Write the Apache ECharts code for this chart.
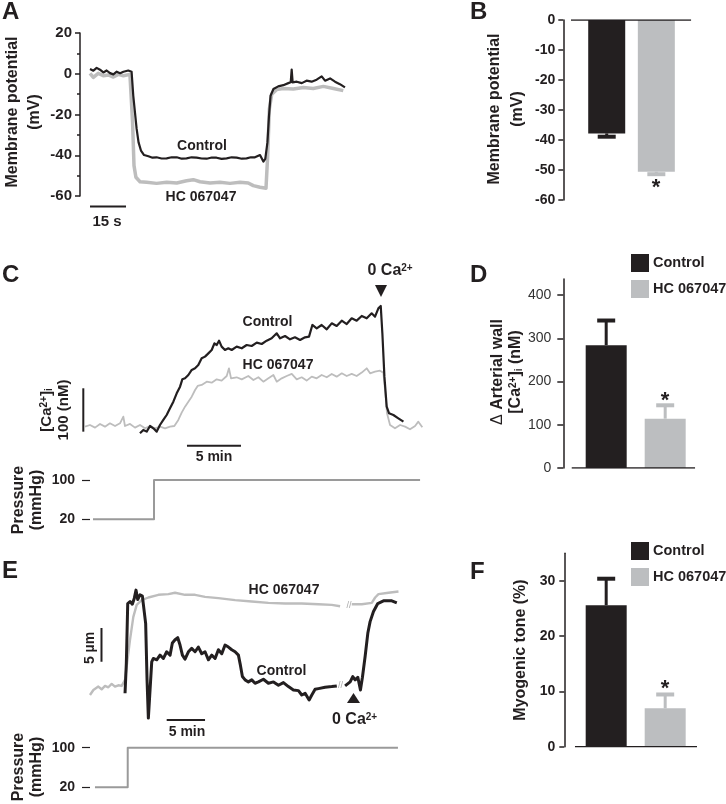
<!DOCTYPE html>
<html><head><meta charset="utf-8">
<script src="https://cdn.jsdelivr.net/npm/echarts@6/dist/echarts.min.js"></script>
<style>html,body{margin:0;padding:0;background:#fff}#c{width:726px;height:804px}</style>
</head><body><div id="c"></div><script>
// ---------- DATA ----------
// Panel A: membrane potential traces [time s, mV]
const aControl = [[4.17,2.3],[5.56,1.5],[6.94,2.9],[8.33,2.0],[9.72,0.65],[11.1,1.6],[12.5,0.3],[13.9,-0.3],[15.3,1.0],[16.7,0.3],[18.1,1.0],[20.1,1.6],[21.5,1.0],[22.2,-10.8],[22.9,-19],[23.6,-27.1],[24.4,-33.7],[25.4,-37.7],[26.7,-39.9],[28.5,-40.5],[30.2,-41.2],[31.9,-41.0],[34.0,-41.6],[36.1,-41.5],[38.2,-41.0],[40.3,-41.0],[42.4,-41.7],[44.4,-41.5],[46.5,-41.0],[48.6,-41.2],[50.7,-41.6],[52.8,-41.7],[54.9,-41.1],[56.9,-41.2],[59.0,-41.8],[61.1,-41.5],[63.2,-41.0],[65.3,-41.2],[67.4,-41.7],[69.4,-41.5],[71.2,-41.0],[72.9,-41.0],[75.0,-39.9],[76.4,-43.1],[77.2,-41.8],[78.1,-33.7],[78.75,-20.6],[79.4,-10.8],[80.6,-7.5],[82.6,-6.2],[84.7,-5.6],[86.8,-4.6],[87.8,-4.2],[88.2,2.0],[88.6,-4.2],[90.3,-3.9],[92.4,-4.6],[94.4,-3.4],[96.5,-3.9],[98.6,-2.9],[100.7,-1.3],[102.1,-3.4],[104.2,-2.3],[106.25,-3.9],[108.3,-5.1],[110.4,-6.7]];
const aHC = [[4.17,0.2],[5.56,-1.8],[7.6,0.2],[9.72,-1.0],[11.8,-0.6],[13.9,-1.6],[16.0,-0.3],[18.1,-1.0],[20.8,-0.3],[21.5,-1.0],[21.9,-23.8],[22.5,-45.1],[23.3,-50.8],[25.0,-53.0],[27.8,-53.3],[31.9,-53.8],[36.1,-53.3],[40.3,-53.6],[44.4,-52.5],[47.2,-52.0],[50.0,-53.0],[54.2,-53.6],[58.3,-53.3],[62.5,-53.8],[66.7,-53.3],[70.1,-53.6],[72.2,-54.9],[75.0,-55.7],[77.5,-56.2],[78.2,-40.2],[78.9,-17.3],[79.9,-10.0],[81.9,-7.8],[84.7,-7.2],[88.9,-7.5],[93.1,-6.7],[97.2,-7.2],[101.4,-6.2],[105.6,-7.2],[109.7,-8.3]];
const aScaleBar = [[4.17,-65.2],[19.17,-65.2]];        // 15 s
const aTicks = [20, 0, -20, -40, -60];

// Panel B: membrane potential (mV), mean and SEM
const groups = ['Control', 'HC 067047'];
const bMean = [-37.8, -50.6];
const bSem = [1.1, 0.8];

// Panel C: delta [Ca2+]i traces [time min, nM]
const cHC = [[0,7.7],[0.46,11.5],[0.93,5.4],[1.39,13.9],[1.85,7.7],[2.31,15.4],[2.78,9.2],[3.24,15.4],[3.55,30.8],[3.70,9.2],[4.17,13.9],[4.63,5.4],[5.09,11.5],[5.56,3.8],[6.02,9.2],[6.48,3.8],[6.94,7.7],[7.41,3.8],[7.87,7.7],[8.27,9.2],[8.64,23.1],[8.95,40],[9.26,53.9],[9.57,65.4],[9.88,77],[10.19,92.4],[10.43,101.6],[10.80,103.9],[11.27,111.6],[11.73,109.3],[12.19,117],[12.65,114],[13.12,124.7],[13.33,142.4],[13.52,119.3],[14.04,121.7],[14.51,117],[15.12,124.7],[15.59,115.5],[16.05,121.7],[16.51,111.6],[16.98,119.3],[17.44,127],[17.75,111.6],[18.21,119.3],[18.67,124.7],[19.14,129.4],[19.60,117],[20.06,121.7],[20.52,114],[20.99,123.2],[21.45,119.3],[21.91,127],[22.38,121.7],[22.84,129.4],[23.30,123.2],[23.77,130.9],[24.23,124.7],[24.69,129.4],[25.15,124.7],[25.62,132.5],[26.08,142.4],[26.39,130.9],[26.85,134.7],[27.31,137],[27.62,132.5],[27.78,92.4],[27.96,38.5],[28.24,11.5],[28.70,3.8],[29.17,11.5],[29.63,7.7],[30.09,1.5],[30.56,9.2],[30.86,19.2],[31.23,6.2]];
const cControl = [[5.09,-7.7],[5.40,0],[5.71,-3.8],[6.02,9.2],[6.33,3.8],[6.64,-3.8],[6.94,11.5],[7.25,23.1],[7.56,34.6],[7.87,50],[8.18,65.4],[8.49,84.7],[8.80,100],[9.01,117],[9.26,119.3],[9.57,127],[9.88,138.6],[10.19,142.4],[10.49,150],[10.80,165.5],[11.11,169.4],[11.42,177],[11.73,184.8],[11.98,200.2],[12.19,196.3],[12.41,206.3],[12.65,192.5],[12.96,184.8],[13.27,188.7],[13.58,184.8],[14.04,192.5],[14.51,188.7],[14.97,196.3],[15.43,194],[15.90,201.7],[16.36,198.6],[16.82,206.3],[17.28,211.7],[17.75,223.3],[18.06,211.7],[18.52,217.1],[18.98,209.4],[19.44,214],[19.91,207.9],[20.37,214],[20.74,215.6],[21.05,242.5],[21.45,234.8],[21.91,242.5],[22.38,232.5],[22.84,246.3],[23.30,240.2],[23.77,252.5],[24.23,244.7],[24.69,257.9],[25.15,252.5],[25.62,263.3],[26.08,257.9],[26.54,269.4],[26.85,261.7],[27.16,280.9],[27.38,286.3],[27.53,223.3],[27.72,123.2],[27.93,53.9],[28.15,38.5],[28.55,34.6],[29.01,26.9],[29.48,19.2]];
const cScaleY = [[-0.157,-3.9],[-0.157,96.3]];          // 100 nM
const cScaleX = [[9.44,-36.3],[14.44,-36.3]];          // 5 min
const pressureC = [[0.74,20],[6.39,20],[6.39,100],[31.02,100]];
const pressureTicks = [20, 100];

// Panel D: delta arterial wall [Ca2+]i (nM)
const dMean = [284, 114];
const dSem = [57, 31];
const dTicks = [0, 100, 200, 300, 400];

// Panel E: diameter traces [time min, um]
const eHC = [[0.65,0.75],[1.09,1.49],[1.74,2.0],[2.17,1.6],[2.61,2.1],[3.04,1.9],[3.48,2.4],[3.91,2.0],[4.35,2.2],[4.78,2.1],[5.22,3.0],[5.43,5.0],[5.87,9.0],[6.30,12.4],[6.74,14.2],[7.39,14.9],[8.26,15.3],[9.57,15.7],[10.87,15.8],[11.74,16.0],[13.04,15.7],[14.35,15.7],[15.65,15.4],[17.39,15.2],[19.57,14.9],[21.74,14.7],[23.91,14.5],[26.09,14.4],[28.26,14.4],[30.43,14.3],[32.17,14.2],[33.26,14.0],[33.9,null],[34.78,14.3],[36.09,14.3],[37.39,14.5],[37.83,15.3],[38.26,15.8],[39.57,16.0],[40.87,16.2]];
const eControl = [[5.22,1.0],[5.39,5.5],[5.57,14.4],[5.87,14.7],[6.17,14.3],[6.43,15.2],[6.65,16.4],[6.87,15.0],[7.17,15.7],[7.48,15.5],[7.74,15.7],[7.91,11.4],[8.09,3.0],[8.26,-2.7],[8.48,1.5],[8.70,5.7],[8.91,6.2],[9.35,6.0],[9.78,6.7],[10.22,6.2],[10.65,7.2],[11.09,6.7],[11.39,8.5],[11.74,9.0],[12.09,9.3],[12.39,8.2],[12.70,6.7],[13.04,6.1],[13.48,7.2],[13.91,7.7],[14.35,7.2],[14.78,7.9],[15.22,6.9],[15.65,7.2],[16.09,6.0],[16.52,6.7],[16.96,6.2],[17.39,7.5],[17.83,6.9],[18.26,8.2],[18.70,7.9],[19.13,7.5],[19.57,7.2],[20.0,6.7],[20.26,5.2],[20.52,3.5],[20.87,3.0],[21.30,2.7],[21.74,3.0],[22.17,2.5],[22.61,2.7],[23.26,3.1],[23.91,2.5],[24.57,2.7],[25.22,2.2],[25.87,2.6],[26.52,2.0],[27.17,1.5],[27.83,1.4],[28.26,0.75],[28.70,1.0],[29.22,0.0],[29.57,0.75],[30.0,1.6],[30.43,1.7],[31.30,1.9],[32.17,2.0],[32.83,2.1],[33.3,null],[33.91,2.1],[34.57,2.7],[34.91,3.5],[35.22,3.0],[35.57,3.4],[35.91,1.5],[36.17,3.4],[36.52,6.5],[36.87,9.95],[37.17,11.7],[37.61,13.2],[38.17,14.4],[38.91,14.8],[40.0,14.8],[40.65,14.5]];
const eScaleY = [[2.15,10.75],[2.15,5.7]];             // 5 um
const eScaleX = [[10.65,-3.0],[15.65,-3.0]];           // 5 min
const pressureE = [[1.30,20],[5.57,20],[5.57,100],[40.8,100]];

// Panel F: myogenic tone (%)
const fMean = [25.6, 6.95];
const fSem = [4.8, 2.5];
const fTicks = [0, 10, 20, 30];

// ---------- STYLE ----------
const FONT = "'Liberation Sans', Arial, Helvetica, sans-serif";
const INK = '#231f20';
const LIGHT = '#bdbdbd';
const BAR_GRAY = '#bcbec0';
const PGRAY = '#9a9a9a';
const barColors = [INK, BAR_GRAY];

const chart = echarts.init(document.getElementById('c'), null, {renderer: 'canvas'});

function lineS(name, data, xi, color, width, extra) {
  return Object.assign({
    name, type: 'line', xAxisIndex: xi, yAxisIndex: xi, data,
    showSymbol: false, symbol: 'none', connectNulls: false,
    lineStyle: {color, width, join: 'round'}, itemStyle: {color}, silent: true, animation: false, z: 3
  }, extra || {});
}
function barS(name, xi, x, v, color, w) {
  return {name, type: 'bar', xAxisIndex: xi, yAxisIndex: xi, data: [[x, v]],
    barWidth: w, barGap: '-100%', itemStyle: {color}, silent: true, animation: false};
}
function errS(xi, means, sems, dir) {
  return {type: 'custom', xAxisIndex: xi, yAxisIndex: xi, silent: true, animation: false, z: 4,
    data: means.map((m, i) => [i + 1, m, m + dir * sems[i]]),
    renderItem: function (params, api) {
      const c = barColors[params.dataIndex];
      const p1 = api.coord([api.value(0), api.value(1)]);
      const p2 = api.coord([api.value(0), api.value(2)]);
      return {type: 'group', children: [
        {type: 'line', shape: {x1: p1[0], y1: p1[1], x2: p2[0], y2: p2[1]}, style: {stroke: c, lineWidth: 3}},
        {type: 'line', shape: {x1: p2[0] - 9, y1: p2[1], x2: p2[0] + 9, y2: p2[1]}, style: {stroke: c, lineWidth: 4}}
      ]};
    }};
}
function yAx(gi, o) {
  return Object.assign({
    gridIndex: gi, type: 'value', splitLine: {show: false},
    axisLine: {show: true, lineStyle: {color: INK, width: 1.5}},
    axisTick: {show: true, length: 5, lineStyle: {color: INK, width: 1.5}},
    axisLabel: {color: INK, fontFamily: FONT, fontSize: 14, fontWeight: 'bold', margin: 8}
  }, o);
}
function hiddenAx(gi, min, max) { return {gridIndex: gi, type: 'value', min, max, show: false}; }
function txt(x, y, text, o) {
  o = o || {};
  return {type: 'text', x, y, rotation: o.rot || 0, silent: true, z: 10,
    style: {text, fill: o.fill || INK, fontFamily: FONT, fontSize: o.size || 14,
      fontWeight: o.weight || 'bold', align: o.align || 'center', verticalAlign: 'middle',
      rich: o.rich}};
}
const supRich = {
  sup: {fontSize: 10, fontWeight: 'bold', fontFamily: FONT, fill: INK, verticalAlign: 'top', lineHeight: 10},
  sub: {fontSize: 10, fontWeight: 'bold', fontFamily: FONT, fill: INK, verticalAlign: 'bottom', lineHeight: 10},
  n: {fontSize: 16, fontWeight: 'normal', fontFamily: FONT, fill: INK}
};
const R = Math.PI / 2;

const option = {
  backgroundColor: '#fff',
  animation: false,
  grid: [
    {left: 80, top: 33, width: 270, height: 163},            // A
    {left: 563.3, top: 20, width: 136.7, height: 180},       // B
    {left: 80, top: 278.45, width: 350, height: 177.5},      // C trace
    {left: 90, top: 480, width: 340, height: 39.3},          // C pressure
    {left: 563.3, top: 279, width: 136.7, height: 189},      // D
    {left: 85, top: 566, width: 320, height: 167.5},         // E trace
    {left: 90, top: 747.7, width: 315, height: 39.6},        // E pressure
    {left: 564.3, top: 553.3, width: 135.7, height: 193.4}   // F
  ],
  xAxis: [
    hiddenAx(0, 0, 112.5), hiddenAx(1, 0.125, 2.88), hiddenAx(2, -0.463, 31.94), hiddenAx(3, 0.463, 31.94),
    hiddenAx(4, 0.273, 2.59), hiddenAx(5, 0, 41.72), hiddenAx(6, 0.652, 41.72), hiddenAx(7, 0.29, 2.59)
  ],
  yAxis: [
    yAx(0, {min: -60, max: 20, interval: 20,
      axisLabel: {color: INK, fontFamily: FONT, fontSize: 15, fontWeight: 'bold', margin: 8},
      minorTick: {show: true, splitNumber: 2, length: 3, lineStyle: {color: INK, width: 1.5}}}),
    yAx(1, {min: -60, max: 0, interval: 10}),
    hiddenAx(2, -60, 350),
    yAx(3, {min: 20, max: 100, axisLine: {show: false},
      axisTick: {show: true, length: 8, customValues: pressureTicks, lineStyle: {color: INK, width: 1.2}},
      axisLabel: {color: INK, fontFamily: FONT, fontSize: 14, fontWeight: 'bold', margin: 15, customValues: pressureTicks}}),
    yAx(4, {min: 0, max: 437,
      axisTick: {show: true, length: 6, customValues: dTicks, lineStyle: {color: INK, width: 1.5}},
      axisLabel: {color: '#333', fontFamily: FONT, fontSize: 14, fontWeight: 'normal', margin: 12, customValues: dTicks}}),
    hiddenAx(5, -5, 20),
    yAx(6, {min: 20, max: 100, axisLine: {show: false},
      axisTick: {show: true, length: 8, customValues: pressureTicks, lineStyle: {color: INK, width: 1.2}},
      axisLabel: {color: INK, fontFamily: FONT, fontSize: 14, fontWeight: 'bold', margin: 15, customValues: pressureTicks}}),
    yAx(7, {min: 0, max: 35,
      axisTick: {show: true, length: 5, customValues: fTicks, lineStyle: {color: INK, width: 1.5}},
      axisLabel: {color: INK, fontFamily: FONT, fontSize: 14, fontWeight: 'bold', margin: 9, customValues: fTicks}})
  ],
  legend: [
    {data: groups, left: 626, top: 249, orient: 'vertical', itemWidth: 18, itemHeight: 18, itemGap: 8,
      icon: 'rect', selectedMode: false, textStyle: {color: INK, fontFamily: FONT, fontSize: 14.5, fontWeight: 'bold', padding: [0, 0, 0, -1]}},
    {data: groups, left: 626, top: 537, orient: 'vertical', itemWidth: 18, itemHeight: 18, itemGap: 8,
      icon: 'rect', selectedMode: false, textStyle: {color: INK, fontFamily: FONT, fontSize: 14.5, fontWeight: 'bold', padding: [0, 0, 0, -1]}}
  ],
  series: [
    // A
    lineS('A HC', aHC, 0, LIGHT, 3.5),
    lineS('A Control', aControl, 0, INK, 2.2),
    lineS('A scale', aScaleBar, 0, INK, 2, {clip: false}),
    // B
    barS(groups[0], 1, 1, bMean[0], barColors[0], 37),
    barS(groups[1], 1, 2, bMean[1], barColors[1], 37),
    errS(1, bMean, bSem, -1),
    lineS('B base', [[0.28, 0], [2.70, 0]], 1, INK, 1.5, {z: 5}),
    // C
    lineS('C HC', cHC, 2, LIGHT, 1.8),
    lineS('C Control', cControl, 2, INK, 2.2),
    lineS('C scaleY', cScaleY, 2, INK, 2, {clip: false}),
    lineS('C scaleX', cScaleX, 2, INK, 2, {clip: false}),
    lineS('C pressure', pressureC, 3, PGRAY, 2, {clip: false}),
    // D
    barS(groups[0], 4, 1, dMean[0], barColors[0], 41),
    barS(groups[1], 4, 2, dMean[1], barColors[1], 41),
    errS(4, dMean, dSem, 1),
    lineS('D base', [[0.416, 0], [2.506, 0]], 4, INK, 1.5, {z: 5}),
    // E
    lineS('E HC', eHC, 5, LIGHT, 2.4),
    lineS('E Control', eControl, 5, INK, 3),
    lineS('E scaleY', eScaleY, 5, INK, 2, {clip: false}),
    lineS('E scaleX', eScaleX, 5, INK, 2, {clip: false}),
    lineS('E pressure', pressureE, 6, PGRAY, 2, {clip: false}),
    // F
    barS(groups[0], 7, 1, fMean[0], barColors[0], 41),
    barS(groups[1], 7, 2, fMean[1], barColors[1], 41),
    errS(7, fMean, fSem, 1),
    lineS('F base', [[0.471, 0], [2.539, 0]], 7, INK, 1.5, {z: 5})
  ],
  graphic: [
    // panel letters
    txt(2, 12, 'A', {size: 24, align: 'left'}),
    txt(470, 12, 'B', {size: 24, align: 'left'}),
    txt(2, 275, 'C', {size: 24, align: 'left'}),
    txt(470, 275, 'D', {size: 24, align: 'left'}),
    txt(2, 571, 'E', {size: 24, align: 'left'}),
    txt(470, 572, 'F', {size: 24, align: 'left'}),
    // axis titles
    txt(12.5, 112, 'Membrane potential', {size: 16, rot: R}),
    txt(35, 112, '(mV)', {size: 16, rot: R}),
    txt(495, 109, 'Membrane potential', {size: 16, rot: R}),
    txt(518, 109, '(mV)', {size: 16, rot: R}),
    txt(498, 372, '{n|\u0394} Arterial wall', {size: 16, rot: R, rich: supRich}),
    txt(516, 372, '[Ca{sup|2+}]{sub|i} (nM)', {size: 16, rot: R, rich: supRich}),
    txt(521, 650, 'Myogenic tone (%)', {size: 16, rot: R}),
    txt(18.5, 500, 'Pressure', {size: 16, rot: R}),
    txt(36.5, 500, '(mmHg)', {size: 16, rot: R}),
    txt(18.5, 767, 'Pressure', {size: 16, rot: R}),
    txt(36.5, 767, '(mmHg)', {size: 16, rot: R}),
    // scale bar labels
    txt(107, 222, '15 s', {size: 15}),
    txt(47, 410, '[Ca{sup|2+}]{sub|i}', {size: 15, rot: R, rich: supRich}),
    txt(64, 410, '100 (nM)', {size: 15, rot: R}),
    txt(214, 457, '5 min', {size: 14}),
    txt(90, 648, '5 \u00b5m', {size: 14, rot: R}),
    txt(187, 732, '5 min', {size: 14}),
    // trace labels
    txt(202, 146.5, 'Control', {size: 14}),
    txt(201, 197, 'HC 067047', {size: 14}),
    txt(267.5, 322, 'Control', {size: 14}),
    txt(278, 365, 'HC 067047', {size: 14}),
    txt(367.5, 271, '0 Ca{sup|2+}', {size: 16, align: 'left', rich: supRich}),
    txt(284, 590, 'HC 067047', {size: 14}),
    txt(281.5, 671, 'Control', {size: 14}),
    txt(332, 720, '0 Ca{sup|2+}', {size: 16, align: 'left', rich: supRich}),
    // break marks
    txt(349, 606, '//', {size: 9, fill: '#aaa', weight: 'normal'}),
    txt(340.5, 686, '//', {size: 9, fill: '#aaa', weight: 'normal'}),
    // significance stars
    txt(656, 188, '*', {size: 22}),
    txt(665, 401, '*', {size: 22}),
    txt(665, 689, '*', {size: 22}),
    // arrows
    {type: 'polygon', silent: true, z: 10, shape: {points: [[375, 285], [387, 285], [381, 297]]}, style: {fill: INK}},
    {type: 'polygon', silent: true, z: 10, shape: {points: [[347, 703], [360, 703], [353.5, 693]]}, style: {fill: INK}}
  ]
};
chart.setOption(option);
</script></body></html>
